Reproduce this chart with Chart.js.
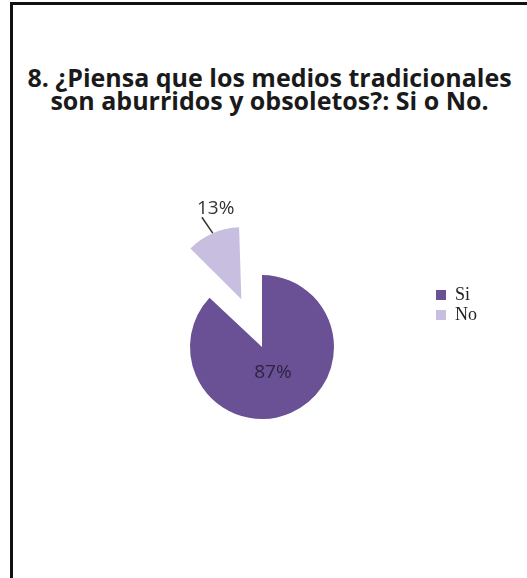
<!DOCTYPE html>
<html>
<head>
<meta charset="utf-8">
<script src="https://cdn.jsdelivr.net/npm/chart.js@4.4.1/dist/chart.umd.min.js"></script>
<style>
  html, body { margin: 0; padding: 0; background: #fff; overflow: hidden; }
  #frame {
    position: absolute; left: 10px; top: 2px;
    width: 540px; height: 600px;
    border-left: 3px solid #111; border-top: 3px solid #111;
  }
  #title {
    position: absolute; left: 12px; top: 66px; width: 515px;
    text-align: center; color: #1a1a1a;
    font: bold 25px/23px "Open Sans", sans-serif;
    white-space: nowrap;
  }
  #wrap { position: absolute; left: 12px; top: 0; width: 515px; height: 578px; }
</style>
</head>
<body>
<div id="frame"></div>
<div id="title"></div>
<div id="wrap"><canvas id="pie"></canvas></div>
<script>
// Survey answers, question 8
const titleLines = ['8. ¿Piensa que los medios tradicionales', 'son aburridos y obsoletos?: Si o No.'];
const answers = ['Si', 'No'];
const percents = [87, 13];
const sliceColors = ['#6a5095', '#c8bedf'];

document.getElementById('title').innerHTML = titleLines.join('<br>');

// Chart.js grows an offset arc's radius a little; pull it back so both slices share one radius
const evenRadius = {
    id: 'evenRadius',
    beforeDatasetsDraw(chart) {
        const arcs = chart.getDatasetMeta(0).data;
        const base = arcs[0].outerRadius;
        arcs.forEach(arc => {
            const d = (arc.options.offset || 0) / 4;
            if (!d) return;
            const fix = 1 - Math.sin(Math.min(Math.PI, arc.circumference));
            arc.outerRadius = base - d * fix;
        });
    }
};

// Percent labels: inside for the big slice, outside with a leader line for the pulled-out one
const pctLabels = {
    id: 'pctLabels',
    afterDatasetsDraw(chart) {
        const ctx = chart.ctx;
        const arcs = chart.getDatasetMeta(0).data;
        const r = arcs[0].outerRadius;
        ctx.save();
        ctx.font = '19px "Open Sans"';
        arcs.forEach((arc, i) => {
            const mid = (arc.startAngle + arc.endAngle) / 2;
            const d = (arc.options.offset || 0) / 4;
            const cx = arc.x + Math.cos(mid) * d;
            const cy = arc.y + Math.sin(mid) * d;
            const text = percents[i] + '%';
            if (d === 0) {
                ctx.fillStyle = '#2e2442';
                ctx.textAlign = 'center';
                ctx.textBaseline = 'middle';
                ctx.fillText(text, cx + Math.cos(mid) * r * 0.38, cy + Math.sin(mid) * r * 0.38);
            } else {
                const a = mid - 0.04;
                const x1 = cx + Math.cos(mid) * r, y1 = cy + Math.sin(mid) * r;
                const x2 = cx + Math.cos(a) * (r + 19), y2 = cy + Math.sin(a) * (r + 19);
                ctx.strokeStyle = '#333';
                ctx.lineWidth = 1.5;
                ctx.beginPath();
                ctx.moveTo(x1, y1);
                ctx.lineTo(x2, y2);
                ctx.stroke();
                ctx.fillStyle = '#333';
                ctx.textAlign = 'left';
                ctx.textBaseline = 'bottom';
                ctx.fillText(text, x2 - 5, y2 + 1);
            }
        });
        ctx.restore();
    }
};

new Chart(document.getElementById('pie'), {
    type: 'pie',
    data: {
        labels: answers,
        datasets: [{
            data: percents,
            backgroundColor: sliceColors,
            borderWidth: 0,
            offset: [0, 208],
            hoverOffset: 0
        }]
    },
    options: {
        responsive: true,
        maintainAspectRatio: false,
        animation: false,
        radius: 72,
        cutout: '0%',
        layout: {
            padding: { top: 284, left: 78, right: 40, bottom: 168 }
        },
        plugins: {
            legend: {
                position: 'right',
                align: 'start',
                fullSize: false,
                labels: {
                    boxWidth: 10,
                    boxHeight: 10,
                    padding: 2,
                    color: '#222',
                    font: { family: 'Liberation Serif', size: 18 }
                }
            },
            tooltip: { enabled: false }
        }
    },
    plugins: [evenRadius, pctLabels]
});
</script>
</body>
</html>
